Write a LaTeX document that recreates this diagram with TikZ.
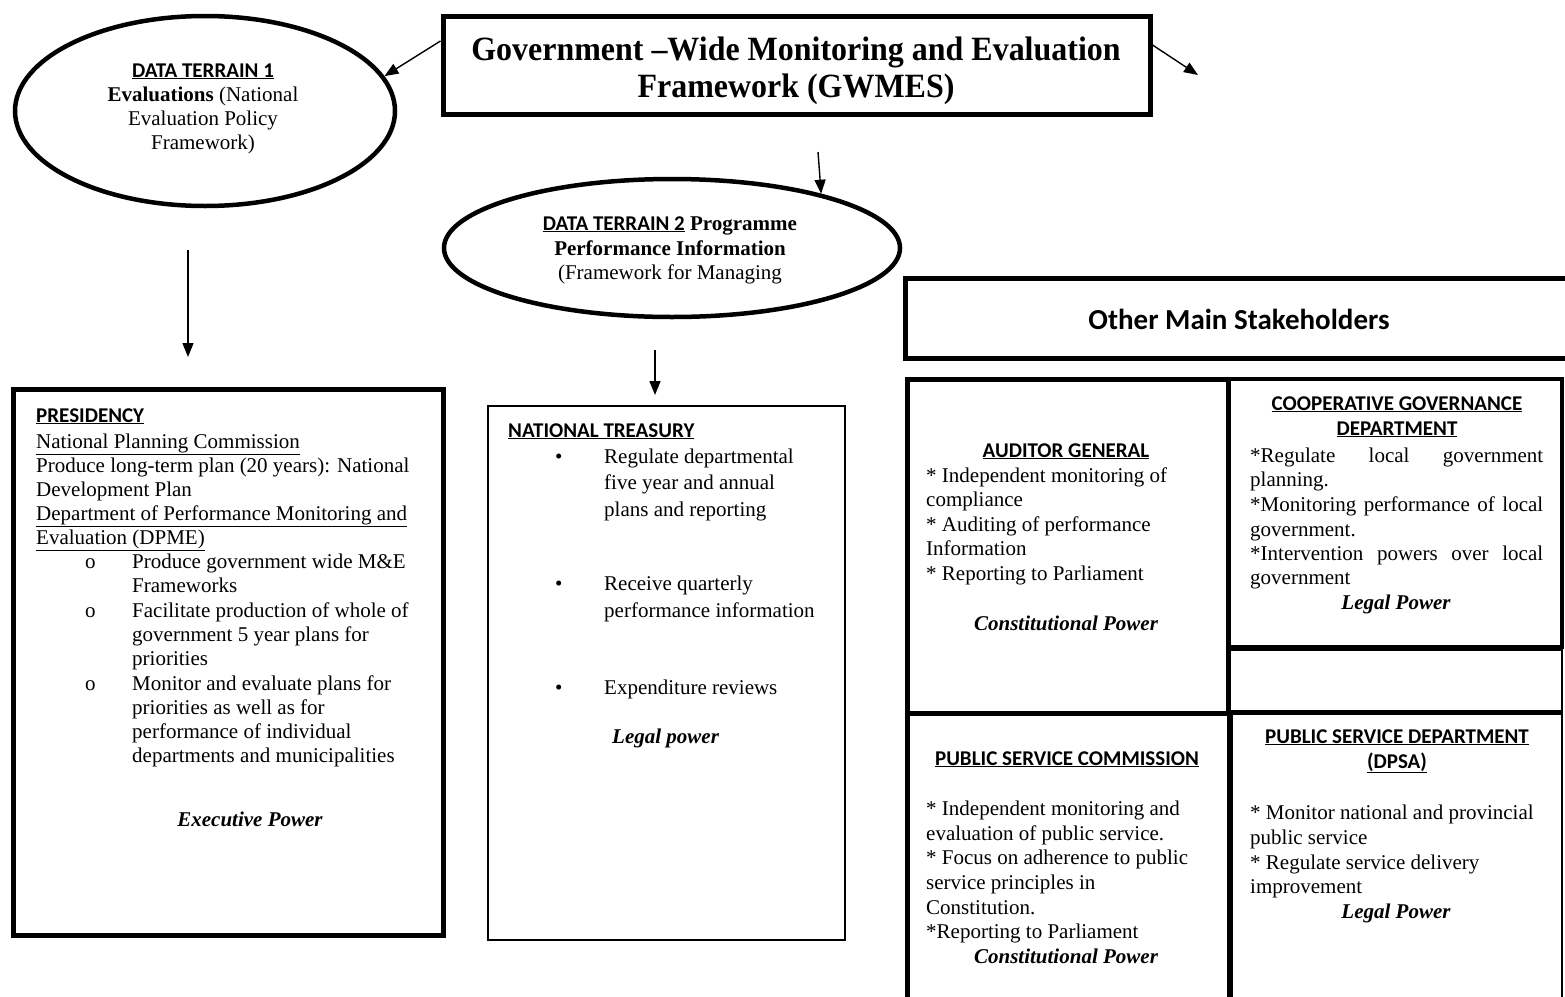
\documentclass[tikz,border=0pt]{standalone}
\usepackage{fontspec}
\setmainfont{Liberation Serif}
\newfontfamily\hfont{Carlito}
\newfontfamily\titlefont[FakeStretch=0.94]{Liberation Serif}
\usetikzlibrary{shapes.geometric,arrows.meta,calc}
\tikzset{
  x=1pt,y=-1pt,
  txt/.style={inner sep=0pt, anchor=base west, font=\fontsize{21}{24}\selectfont},
  ctxt/.style={txt, anchor=base},
  hd/.style={inner sep=0pt, anchor=base west, font=\hfont\bfseries\fontsize{21}{24}\selectfont},
  chd/.style={hd, anchor=base},
  pw/.style={inner sep=0pt, anchor=base, font=\fontsize{21}{24}\selectfont\bfseries\itshape},
  ttl/.style={inner sep=0pt, anchor=base, font=\titlefont\bfseries\fontsize{34}{37}\selectfont},
  oval/.style={ellipse, draw, line width=4.5pt, inner sep=0pt},
  thickbox/.style={rectangle, draw, line width=5pt, inner sep=0pt},
  midbox/.style={rectangle, draw, line width=4pt, inner sep=0pt},
  thinbox/.style={rectangle, draw, line width=2pt, inner sep=0pt},
  thickline/.style={line width=5pt},
  arr/.style={line width=1.4pt, -{Triangle[length=14pt,width=11pt]}},
}
\begin{document}
\begin{tikzpicture}
\fill[white] (0,0) rectangle (1565,996);
\useasboundingbox (0,0) rectangle (1565,996);

% ---------- top ----------
\node[thickbox, minimum width=707pt, minimum height=98pt] (title) at (796.5,65) {};
\node[ttl] (tt1) at (796,60) {Government –Wide Monitoring and Evaluation};
\node[ttl] (tt2) at (796,97) {Framework (GWMES)};

\node[oval, minimum width=380pt, minimum height=190pt] (e1) at (205,111) {};
\node[chd]  (e1a) at (203,77)  {\underline{DATA TERRAIN 1}};
\node[ctxt] (e1b) at (203,101) {\textbf{Evaluations} (National};
\node[ctxt] (e1c) at (203,125) {Evaluation Policy};
\node[ctxt] (e1d) at (203,149) {Framework)};

\node[oval, minimum width=456pt, minimum height=138pt] (e2) at (672,248) {};
\node[ctxt] (e2a) at (670,230) {{\hfont\bfseries\underline{DATA TERRAIN 2}} \textbf{Programme}};
\node[ctxt] (e2b) at (670,255) {\textbf{Performance Information}};
\node[ctxt] (e2c) at (670,279) {(Framework for Managing};

% ---------- arrows ----------
\coordinate (rfree) at (1198,75);
\coordinate (a1s) at (188,250);
\coordinate (a1e) at (188,357);
\coordinate (a2s) at (655,350);
\coordinate (a2e) at (655,395);
\coordinate (a3s) at (818,152);
\draw[arr] ([yshift=24pt]title.west) -- (e1.11);
\draw[arr] ([yshift=20pt]title.east) -- (rfree);
\draw[arr] (a3s) -- (e2.20);
\draw[arr] (a1s) -- (a1e);
\draw[arr] (a2s) -- (a2e);

% ---------- presidency ----------
\node[thickbox, minimum width=430pt, minimum height=546pt] (pres) at (228,662) {};
\node[hd]  (p0) at (36,422) {\underline{PRESIDENCY}};
\node[txt] (p1) at (36,448) {\underline{National Planning Commission}};
\node[txt] (p2) at (36,472) {Produce long-term plan (20 years): National};
\node[txt] (p3) at (36,496) {Development Plan};
\node[txt] (p4) at (36,520) {\underline{Department of Performance Monitoring and}};
\node[txt] (p5) at (36,544) {\underline{Evaluation (DPME)}};
\node[txt] (pb1) at (85,568) {o};
\node[txt] (p6) at (132,568) {Produce government wide M\&E};
\node[txt] (p7) at (132,592) {Frameworks};
\node[txt] (pb2) at (85,617) {o};
\node[txt] (p8) at (132,617) {Facilitate production of whole of};
\node[txt] (p9) at (132,641) {government 5 year plans for};
\node[txt] (p10) at (132,665) {priorities};
\node[txt] (pb3) at (85,690) {o};
\node[txt] (p11) at (132,690) {Monitor and evaluate plans for};
\node[txt] (p12) at (132,714) {priorities as well as for};
\node[txt] (p13) at (132,738) {performance of individual};
\node[txt] (p14) at (132,762) {departments and municipalities};
\node[pw]  (p15) at (250,826) {Executive Power};

% ---------- national treasury ----------
\node[thinbox, minimum width=357pt, minimum height=534pt] (nt) at (666.5,673) {};
\node[hd]  (n0) at (508,437) {\underline{NATIONAL TREASURY}};
\node[txt] (nb1) at (555,463) {\textbullet};
\node[txt] (n1) at (604,463) {Regulate departmental};
\node[txt] (n2) at (604,489) {five year and annual};
\node[txt] (n3) at (604,516) {plans and reporting};
\node[txt] (nb2) at (555,590) {\textbullet};
\node[txt] (n4) at (604,590) {Receive quarterly};
\node[txt] (n5) at (604,617) {performance information};
\node[txt] (nb3) at (555,694) {\textbullet};
\node[txt] (n6) at (604,694) {Expenditure reviews};
\node[pw, anchor=base west] (n7) at (612,743) {Legal power};

% ---------- stakeholders ----------
\node[thickbox, minimum width=675pt, minimum height=80pt] (oms) at (1242.5,318) {};
\node[chd, font=\hfont\bfseries\fontsize{29}{32}\selectfont] (omst) at (1239,329) {Other Main Stakeholders};

\node[thickbox, minimum width=321pt, minimum height=334pt] (ag) at (1067.5,546) {};
\node[midbox, minimum width=334pt, minimum height=268pt] (cg) at (1395,513) {};
\node[thinbox, minimum width=332pt, minimum height=63pt] (emp) at (1396,681.5) {};
\node[thickbox, minimum width=323pt, minimum height=297pt] (psc) at (1068.5,861.5) {};
\node[thinbox, minimum width=332pt, minimum height=297pt] (psd) at (1396,861.5) {};
\draw[thickline] (psd.north east) -- (psd.north west) -- (psd.south west);

\node[chd]  (ag0) at (1066,457) {\underline{AUDITOR GENERAL}};
\node[txt]  (ag1) at (926,482) {* Independent monitoring of};
\node[txt]  (ag2) at (926,506) {compliance};
\node[txt]  (ag3) at (926,531) {* Auditing of performance};
\node[txt]  (ag4) at (926,555) {Information};
\node[txt]  (ag5) at (926,580) {* Reporting to Parliament};
\node[pw]   (ag6) at (1066,630) {Constitutional Power};

\node[chd]  (cg0) at (1397,410) {\underline{COOPERATIVE GOVERNANCE}};
\node[chd]  (cg1) at (1397,435) {\underline{DEPARTMENT}};
\node[txt]  (cg2) at (1250,462) {\makebox[293pt][s]{*Regulate local government}};
\node[txt]  (cg3) at (1250,486) {planning.};
\node[txt]  (cg4) at (1250,511) {\makebox[293pt][s]{*Monitoring performance of local}};
\node[txt]  (cg5) at (1250,536) {government.};
\node[txt]  (cg6) at (1250,560) {\makebox[293pt][s]{*Intervention powers over local}};
\node[txt]  (cg7) at (1250,584) {government};
\node[pw]   (cg8) at (1396,609) {Legal Power};

\node[chd]  (ps0) at (1067,765) {\underline{PUBLIC SERVICE COMMISSION}};
\node[txt]  (ps1) at (926,815) {* Independent monitoring and};
\node[txt]  (ps2) at (926,840) {evaluation of public service.};
\node[txt]  (ps3) at (926,864) {* Focus on adherence to public};
\node[txt]  (ps4) at (926,889) {service principles in};
\node[txt]  (ps5) at (926,914) {Constitution.};
\node[txt]  (ps6) at (926,938) {*Reporting to Parliament};
\node[pw]   (ps7) at (1066,963) {Constitutional Power};

\node[chd]  (pd0) at (1397,743) {\underline{PUBLIC SERVICE DEPARTMENT}};
\node[chd]  (pd1) at (1397,768) {\underline{(DPSA)}};
\node[txt]  (pd2) at (1250,819) {* Monitor national and provincial};
\node[txt]  (pd3) at (1250,844) {public service};
\node[txt]  (pd4) at (1250,869) {* Regulate service delivery};
\node[txt]  (pd5) at (1250,893) {improvement};
\node[pw]   (pd6) at (1396,918) {Legal Power};
\end{tikzpicture}
\end{document}
